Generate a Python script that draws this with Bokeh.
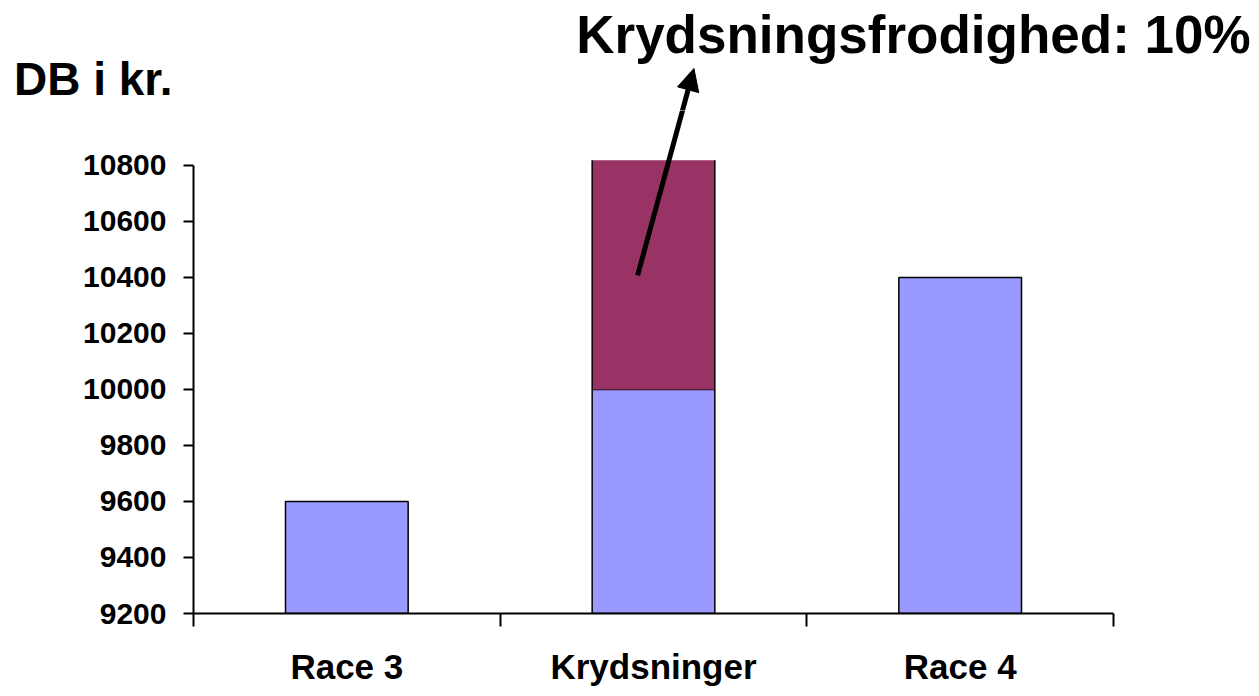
from bokeh.plotting import figure
from bokeh.layouts import column
from bokeh.models import Range1d, FixedTicker, Arrow, NormalHead, Label, ColumnDataSource
from bokeh.embed import file_html
from bokeh.resources import INLINE

categories = ["Race 3", "Krydsninger", "Race 4"]
base_values = [9600, 10000, 10400]
extra_bottom = [10000]
extra_top = [11000]
y_ticks = [9200, 9400, 9600, 9800, 10000, 10200, 10400, 10600, 10800]
title_text = "Krydsningsfrodighed: 10%"
ylabel_text = "DB i kr."

FONT = "Liberation Sans"
Y_MIN = 9200
AXIS_MAX = 10800
PLOT_TOP = 10818          # top edge of the original plot area (bars are cut there)
Y_SPLIT = 10996           # where the header strip meets the chart panel
Y_TOP = 11389
X_LEFT = -0.629
X_RIGHT = 3.45
xpos = [i + 0.5 for i in range(len(categories))]

W = 1251
HEAD_H = 110
MAIN_H = 578

# ---------- header strip (titles + tip of the arrow) ----------
top = figure(width=W, height=HEAD_H, output_backend="svg", toolbar_location=None,
             x_range=Range1d(X_LEFT, X_RIGHT), y_range=Range1d(Y_SPLIT, Y_TOP),
             x_axis_type=None, y_axis_type=None,
             min_border_left=0, min_border_right=0, min_border_top=0, min_border_bottom=0)
top.frame_align = False
top.outline_line_color = None
top.background_fill_color = "white"
top.border_fill_color = "white"
top.xgrid.visible = False
top.ygrid.visible = False

# ---------- main chart ----------
p = figure(width=W, height=MAIN_H, output_backend="svg", toolbar_location=None,
           x_range=Range1d(0, X_RIGHT), y_range=Range1d(Y_MIN, Y_SPLIT),
           min_border_left=193, min_border_right=0, min_border_top=0, min_border_bottom=75)
p.frame_align = False
p.background_fill_color = "white"
p.border_fill_color = "white"
p.outline_line_color = None
p.xgrid.visible = False
p.ygrid.visible = False

src = ColumnDataSource(dict(x=xpos, top=base_values, bottom=[Y_MIN] * 3))
p.vbar(x="x", top="top", bottom="bottom", width=0.4, source=src,
       fill_color="#9999FF", line_color="black", line_width=1.5)
# upper part of the cross-breed bar, cut at the top of the plot area like the original
cut_top = [min(t, PLOT_TOP) for t in extra_top]
p.vbar(x=[xpos[1]], bottom=extra_bottom, top=cut_top, width=0.4,
       fill_color="#993366", line_color=None)
p.segment(x0=[xpos[1] - 0.2, xpos[1] + 0.2], x1=[xpos[1] - 0.2, xpos[1] + 0.2],
          y0=extra_bottom * 2, y1=cut_top * 2, line_color="black", line_width=1.5)

# y axis
ya = p.yaxis[0]
ya.ticker = FixedTicker(ticks=y_ticks, minor_ticks=[])
ya.bounds = (Y_MIN, AXIS_MAX)
ya.axis_line_width = 2
ya.axis_line_color = "black"
ya.major_tick_out = 10
ya.major_tick_in = 0
ya.major_tick_line_width = 2
ya.minor_tick_out = 0
ya.minor_tick_in = 0
ya.major_label_standoff = 17
ya.major_label_text_font = FONT
ya.major_label_text_font_style = "bold"
ya.major_label_text_font_size = "30px"
ya.major_label_text_color = "black"

# x axis
xa = p.xaxis[0]
xa.ticker = FixedTicker(ticks=xpos, minor_ticks=[0, 1, 2, 3])
xa.bounds = (0, 3)
xa.major_label_overrides = {x: c for x, c in zip(xpos, categories)}
xa.axis_line_width = 2
xa.axis_line_color = "black"
xa.major_tick_out = 0
xa.major_tick_in = 0
xa.minor_tick_out = 13
xa.minor_tick_in = 0
xa.minor_tick_line_width = 2
xa.minor_tick_line_color = "black"
xa.major_label_standoff = 20
xa.major_label_text_font = FONT
xa.major_label_text_font_style = "bold"
xa.major_label_text_font_size = "35px"
xa.major_label_text_color = "black"

# arrow pointing from the maroon segment to the heading (drawn in both panels)
ARROW = dict(x_start=1.448, y_start=10407, x_end=1.632, y_end=11146)
for fig in (p, top):
    fig.add_layout(Arrow(**ARROW, line_width=5, line_color="black",
                         end=NormalHead(size=22, fill_color="black", line_color="black")))

top.add_layout(Label(x=3.447, y=11269, text=title_text, text_align="right",
                     text_baseline="alphabetic", text_font=FONT, text_font_style="bold",
                     text_font_size="53px", text_color="black"))
top.add_layout(Label(x=-0.585, y=11109, text=ylabel_text, text_align="left",
                     text_baseline="alphabetic", text_font=FONT, text_font_style="bold",
                     text_font_size="46px", text_color="black"))

layout = column(top, p, spacing=0)
open("out.html", "w").write(file_html(layout, INLINE))
